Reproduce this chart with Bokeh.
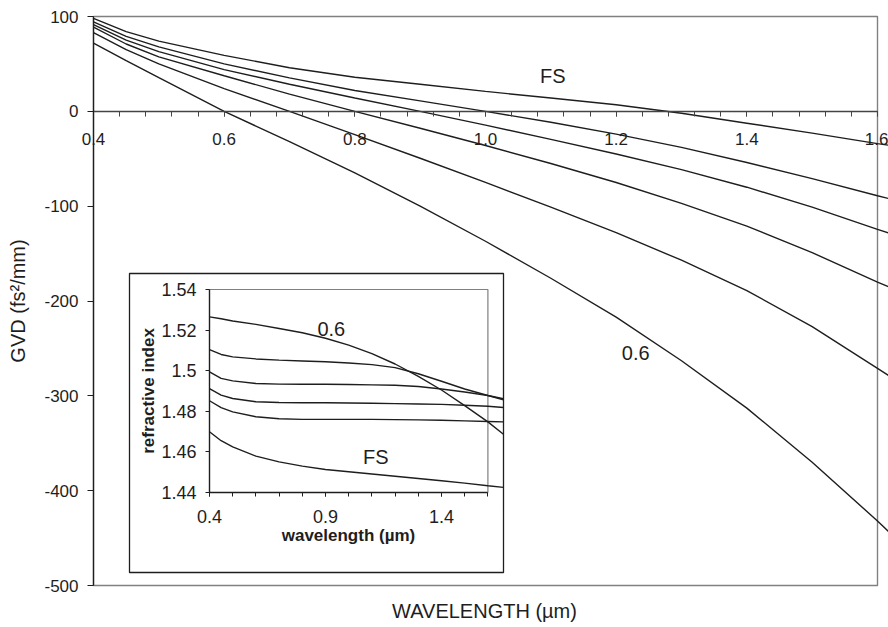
import numpy as np
from bokeh.plotting import figure
from bokeh.models import Range1d, LinearAxis, FixedTicker
from bokeh.core.properties import value
from bokeh.embed import file_html
from bokeh.resources import INLINE

# ---------------- data ----------------
# main plot: GVD (fs^2/mm) vs wavelength (um); curves run slightly past 1.6 as in the original
wavelength = [0.4, 0.45, 0.5, 0.6, 0.7, 0.8, 0.9, 1.0, 1.1, 1.2, 1.3, 1.4, 1.5, 1.6, 1.62]
gvd_fs  = [98.0, 84.0, 74.0, 59.0, 46.0, 36.0, 28.5, 21.0, 14.0, 7.0, -2.0, -12.5, -23.0, -34.0, -36.0]
gvd_10  = [94.4, 79.0, 68.0, 50.0, 35.3, 22.0, 11.0, 0.0, -11.5, -24.0, -38.0, -54.0, -71.0, -89.0, -92.5]
gvd_09  = [91.5, 75.0, 63.0, 44.0, 28.5, 14.0, 0.0, -14.5, -29.5, -45.0, -61.5, -80.0, -101.0, -124.5, -129.0]
gvd_08  = [88.7, 71.0, 57.5, 37.5, 18.2, 0.0, -17.8, -36.0, -55.0, -75.0, -97.0, -121.0, -149.0, -180.0, -186.0]
gvd_07  = [83.0, 65.0, 50.0, 24.0, 0.0, -24.5, -49.5, -75.0, -101.0, -128.0, -157.0, -189.0, -227.0, -271.0, -280.0]
gvd_06  = [72.0, 53.5, 35.5, 0.0, -32.0, -65.0, -100.0, -137.0, -176.0, -217.0, -263.0, -313.0, -370.0, -432.0, -445.0]
gvd_series = [gvd_fs, gvd_10, gvd_09, gvd_08, gvd_07, gvd_06]

# inset: refractive index vs wavelength (um)
inset_wavelength = [0.4, 0.45, 0.5, 0.6, 0.7, 0.8, 0.9, 1.0, 1.1, 1.2, 1.3, 1.4, 1.5, 1.6, 1.667]
n_06 = [1.5265, 1.5256, 1.5245, 1.5228, 1.5208, 1.5187, 1.5160, 1.5126, 1.5084, 1.5033, 1.4972, 1.4905, 1.4828, 1.4748, 1.4687]
n_10 = [1.5104, 1.5080, 1.5068, 1.5058, 1.5052, 1.5048, 1.5044, 1.5038, 1.5030, 1.5015, 1.4985, 1.4948, 1.4910, 1.4878, 1.4862]
n_09 = [1.4994, 1.4962, 1.4950, 1.4937, 1.4934, 1.4933, 1.4933, 1.4932, 1.4930, 1.4928, 1.4922, 1.4910, 1.4895, 1.4878, 1.4857]
n_08 = [1.4912, 1.4880, 1.4863, 1.4847, 1.4843, 1.4842, 1.4842, 1.4841, 1.4840, 1.4838, 1.4836, 1.4834, 1.4830, 1.4825, 1.4819]
n_07 = [1.4852, 1.4818, 1.4797, 1.4773, 1.4763, 1.4760, 1.4760, 1.4760, 1.4760, 1.4759, 1.4758, 1.4756, 1.4753, 1.4750, 1.4748]
n_fs = [1.4699, 1.4655, 1.4625, 1.4579, 1.4551, 1.4530, 1.4513, 1.4502, 1.4491, 1.4480, 1.4469, 1.4458, 1.4446, 1.4433, 1.4425]
n_series = [n_06, n_10, n_09, n_08, n_07, n_fs]

# ticks
x_ticks = [0.4, 0.6, 0.8, 1.0, 1.2, 1.4, 1.6]
x_tick_labels = ["0.4", "0.6", "0.8", "1.0", "1.2", "1.4", "1.6"]
y_ticks = [-500, -400, -300, -200, -100, 0, 100]
y_tick_labels = ["-500", "-400", "-300", "-200", "-100", "0", "100"]
inset_x_ticks = [0.4, 0.9, 1.4]
inset_x_tick_labels = ["0.4", "0.9", "1.4"]
inset_x_max = 1.6
inset_y_ticks = [1.44, 1.46, 1.48, 1.50, 1.52, 1.54]
inset_y_tick_labels = ["1.44", "1.46", "1.48", "1.5", "1.52", "1.54"]

# curve annotations
main_label_x = [1.103, 1.230]
main_label_y = [37.6, -254.8]
main_label_text = ["FS", "0.6"]
inset_label_x = [1.117, 0.925]
inset_label_y = [1.4576, 1.5206]
inset_label_text = ["FS", "0.6"]

# ---------------- layout constants (page pixels) ----------------
W, H = 888, 627
FR_L, FR_R, FR_T, FR_B = 80, 888, 14, 587            # drawing frame (a bit larger than the plot box)
AX_L, AX_R, AX_T, AX_B = 93.0, 877.0, 16.0, 585.0    # where x 0.4/1.6 and y 100/-500 sit
IN_X0, IN_Y0 = 209.0, 492.0                           # inset origin (0.4, 1.44)
IN_XPX, IN_YPX = 232.0, 2030.0                        # inset px per unit
BOX_L, BOX_R, BOX_T, BOX_B = 129.0, 503.0, 273.0, 572.0   # inset outer box

FONT = "Liberation Sans"
INK = "#1e1e1e"
GRAY = "#808080"

sx = (AX_R - AX_L) / (x_ticks[-1] - x_ticks[0])
sy = (AX_B - AX_T) / (y_ticks[-1] - y_ticks[0])
x_start = x_ticks[0] - (AX_L - FR_L) / sx
x_end = x_ticks[-1] + (FR_R - AX_R) / sx
y_end = y_ticks[-1] + (AX_T - FR_T) / sy
y_start = y_ticks[0] - (FR_B - AX_B) / sy

ix0 = inset_x_ticks[0] - (IN_X0 - FR_L) / IN_XPX
ix1 = ix0 + (FR_R - FR_L) / IN_XPX
iy1 = inset_y_ticks[0] + (IN_Y0 - FR_T) / IN_YPX
iy0 = iy1 - (FR_B - FR_T) / IN_YPX

p = figure(width=W, height=H, x_range=Range1d(x_start, x_end), y_range=Range1d(y_start, y_end),
           output_backend="svg", toolbar_location=None,
           min_border_left=FR_L, min_border_right=W - FR_R, min_border_top=FR_T,
           min_border_bottom=H - FR_B)
p.extra_x_ranges = {"ix": Range1d(ix0, ix1)}
p.extra_y_ranges = {"iy": Range1d(iy0, iy1)}
p.xgrid.grid_line_color = None
p.ygrid.grid_line_color = None
p.outline_line_color = None
p.background_fill_color = "white"
p.border_fill_color = "white"

# gray plot box (top / right / bottom)
p.quad(left=[x_ticks[0]], right=[x_ticks[-1]], bottom=[y_ticks[0]], top=[y_ticks[-1]],
       fill_color=None, line_color=GRAY, line_width=1.4)

# main x axis at y = 0
xa = p.xaxis[0]
xa.fixed_location = 0
xa.bounds = (x_ticks[0], x_ticks[-1])
xa.ticker = FixedTicker(ticks=x_ticks, minor_ticks=list(np.round(np.arange(0.4, 1.6001, 0.04), 2)))
xa.major_label_overrides = dict(zip(x_ticks, x_tick_labels))
xa.axis_line_color = "#444444"
xa.axis_line_width = 1.3
xa.major_tick_in = 0
xa.major_tick_out = 5
xa.minor_tick_in = 0
xa.minor_tick_out = 5
xa.major_tick_line_color = "#444444"
xa.minor_tick_line_color = "#444444"
xa.major_label_text_font = FONT
xa.major_label_text_font_size = "17px"
xa.major_label_text_color = INK
xa.major_label_standoff = 17

# main y axis: labels from the panel axis, line + ticks from a fixed axis at x = 0.4
ya = p.yaxis[0]
ya.ticker = FixedTicker(ticks=y_ticks)
ya.major_label_overrides = dict(zip(y_ticks, y_tick_labels))
ya.axis_line_color = None
ya.major_tick_line_color = None
ya.minor_tick_line_color = None
ya.major_tick_in = 0
ya.major_tick_out = 0
ya.major_label_text_font = FONT
ya.major_label_text_font_size = "17px"
ya.major_label_text_color = INK
ya.major_label_standoff = 2
ya.axis_label = "GVD (fs²/mm)"
ya.axis_label_text_font = FONT
ya.axis_label_text_font_style = "normal"
ya.axis_label_text_font_size = "20px"
ya.axis_label_text_color = INK
ya.axis_label_standoff = 12

yl = LinearAxis(fixed_location=x_ticks[0], bounds=(y_ticks[0], y_ticks[-1]),
                ticker=FixedTicker(ticks=y_ticks), major_label_overrides={t: "" for t in y_ticks},
                axis_line_color=INK, axis_line_width=1.3, major_tick_in=0, major_tick_out=6,
                major_tick_line_color=INK, minor_tick_line_color=None)
p.add_layout(yl, "left")

# x axis title (separate, below frame)
xt = LinearAxis(ticker=FixedTicker(ticks=[]), axis_label="WAVELENGTH (µm)",
                axis_line_color=None, major_tick_line_color=None, minor_tick_line_color=None,
                major_tick_out=0, major_tick_in=0,
                axis_label_text_font=FONT, axis_label_text_font_style="normal",
                axis_label_text_font_size="20px", axis_label_text_color=INK,
                axis_label_standoff=12)
p.add_layout(xt, "below")

# main curves
for s in gvd_series:
    p.line(wavelength, s, line_color=INK, line_width=1.4)

p.text(x=main_label_x, y=main_label_y, text=main_label_text,
       text_font=value(FONT), text_font_size="20px", text_color=INK,
       text_align="center", text_baseline="middle")

# inset box (white, black border)
bx0 = inset_x_ticks[0] + (BOX_L - IN_X0) / IN_XPX
bx1 = inset_x_ticks[0] + (BOX_R - IN_X0) / IN_XPX
by1 = inset_y_ticks[0] + (IN_Y0 - BOX_T) / IN_YPX
by0 = inset_y_ticks[0] + (IN_Y0 - BOX_B) / IN_YPX
p.quad(left=[bx0], right=[bx1], bottom=[by0], top=[by1], fill_color="white",
       line_color=INK, line_width=1.3, x_range_name="ix", y_range_name="iy")
# inset plot-area frame (gray)
p.quad(left=[inset_x_ticks[0]], right=[inset_x_max], bottom=[inset_y_ticks[0]], top=[inset_y_ticks[-1]],
       fill_color=None, line_color=GRAY, line_width=1.2, x_range_name="ix", y_range_name="iy")

for s in n_series:
    p.line(inset_wavelength, s, line_color=INK, line_width=1.4, x_range_name="ix", y_range_name="iy")

p.text(x=inset_label_x, y=inset_label_y, text=inset_label_text,
       text_font=value(FONT), text_font_size="20px", text_color=INK,
       text_align="center", text_baseline="middle", x_range_name="ix", y_range_name="iy")

# inset axes
ixa = LinearAxis(x_range_name="ix", y_range_name="iy", fixed_location=inset_y_ticks[0],
                 bounds=(inset_x_ticks[0], inset_x_max),
                 ticker=FixedTicker(ticks=inset_x_ticks,
                                    minor_ticks=list(np.round(np.arange(0.4, 1.6001, 0.1), 2))),
                 major_label_overrides=dict(zip(inset_x_ticks, inset_x_tick_labels)),
                 axis_line_color=INK, axis_line_width=1.3,
                 major_tick_in=0, major_tick_out=4, minor_tick_in=0, minor_tick_out=4,
                 major_tick_line_color=INK, minor_tick_line_color=INK,
                 major_label_text_font=FONT, major_label_text_font_size="18px",
                 major_label_text_color=INK, major_label_standoff=13,
                 axis_label="wavelength (µm)", axis_label_text_font=FONT,
                 axis_label_text_font_style="bold", axis_label_text_font_size="17px",
                 axis_label_text_color=INK, axis_label_standoff=0)
p.add_layout(ixa, "below")

iya = LinearAxis(x_range_name="ix", y_range_name="iy", fixed_location=inset_x_ticks[0],
                 bounds=(inset_y_ticks[0], inset_y_ticks[-1]),
                 ticker=FixedTicker(ticks=inset_y_ticks),
                 major_label_overrides=dict(zip(inset_y_ticks, inset_y_tick_labels)),
                 axis_line_color=INK, axis_line_width=1.3,
                 major_tick_in=0, major_tick_out=4, minor_tick_line_color=None,
                 major_tick_line_color=INK,
                 major_label_text_font=FONT, major_label_text_font_size="18px",
                 major_label_text_color=INK, major_label_standoff=9,
                 axis_label="refractive index", axis_label_text_font=FONT,
                 axis_label_text_font_style="bold", axis_label_text_font_size="17px",
                 axis_label_text_color=INK, axis_label_standoff=0)
p.add_layout(iya, "left")

open("out.html", "w").write(file_html(p, INLINE))
